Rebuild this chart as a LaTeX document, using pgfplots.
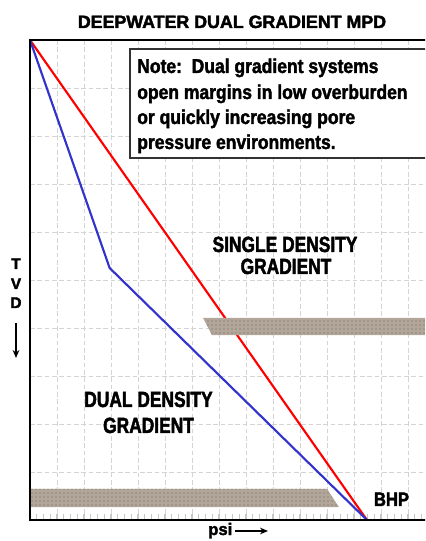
\documentclass[border=0pt]{standalone}
\usepackage{fontspec}
\setmainfont{Liberation Sans}[BoldFeatures={FakeBold=2.2}]
\newfontfamily\notefont{Liberation Sans}[FakeStretch=0.875, BoldFeatures={FakeBold=1.8}]
\newfontfamily\nbfont{Liberation Sans}[FakeStretch=0.79, BoldFeatures={FakeBold=2.0}]
\newfontfamily\bhpfont{Liberation Sans}[FakeStretch=0.85, BoldFeatures={FakeBold=2.0}]
\usepackage{pgfplots}
\pgfplotsset{compat=1.18}
\usetikzlibrary{patterns,arrows.meta}
\definecolor{rockbase}{RGB}{178,165,153}
\definecolor{rockdot}{RGB}{112,98,88}
\definecolor{blueline}{RGB}{50,50,205}
\begin{document}
\begin{tikzpicture}[x=0.75pt,y=0.75pt]
\useasboundingbox (0,0) rectangle (425,541);
\clip (0,0) rectangle (425,541);
\begin{axis}[
  at={(22.5pt,15.75pt)}, anchor=south west,
  scale only axis, width=296.25pt, height=360pt,
  xmin=0, xmax=14.63, ymin=0, ymax=10, y dir=reverse,
  xtick={1,...,14}, ytick={1,...,9},
  minor xtick={0.25,0.5,...,14.6},
  xticklabels={}, yticklabels={},
  xtick pos=left,
  grid=major,
  major grid style={dash pattern=on 3.5pt off 2pt, color=black!17, line width=0.7pt},
  ytick style={draw=none},
  xtick style={color=black!22, line width=1.1pt},
  major tick length=4.5pt, minor tick length=4.5pt,
  axis line style={draw=none},
  clip=false,
]
\addplot[red, line width=1.6pt] coordinates {(0,0) (12.48,10)};
\addplot[blueline, line width=1.6pt] coordinates {(0,0) (2.95,4.75) (12.48,10)};
% upper rock band
\addplot[fill=rockbase, draw=none] coordinates {(6.41,5.79) (14.63,5.79) (14.63,6.15) (6.74,6.15)} -- cycle;
\addplot[pattern=dots, pattern color=rockdot, draw=none] coordinates {(6.41,5.79) (14.63,5.79) (14.63,6.15) (6.74,6.15)} -- cycle;
% lower rock band
\addplot[fill=rockbase, draw=none] coordinates {(0,9.35) (11.0,9.35) (11.44,9.73) (0,9.73)} -- cycle;
\addplot[pattern=dots, pattern color=rockdot, draw=none] coordinates {(0,9.35) (11.0,9.35) (11.44,9.73) (0,9.73)} -- cycle;
% axis lines
\draw[black, line width=2pt, line cap=rect] (rel axis cs:1,1) -- (rel axis cs:0,1) -- (rel axis cs:0,0) -- (rel axis cs:1,0);
\end{axis}
% note box
\draw[fill=white, draw=black!80, line width=1.1pt] (130,383) rectangle (445,492);
\begin{scope}[every node/.style={inner sep=0pt, font=\notefont\bfseries\fontsize{15pt}{18pt}\selectfont}]
\node[anchor=base west] at (137,468) {Note:\ \ Dual gradient systems};
\node[anchor=base west] at (137,442) {open margins in low overburden};
\node[anchor=base west] at (137,417) {or quickly increasing pore};
\node[anchor=base west] at (137,392) {pressure environments.};
\end{scope}
% title
\node[anchor=base, inner sep=0pt, font=\bfseries\fontsize{13.35pt}{16pt}\selectfont] at (232,513) {DEEPWATER DUAL GRADIENT MPD};
% region labels
\begin{scope}[every node/.style={inner sep=0pt, anchor=base, font=\nbfont\bfseries\fontsize{16.5pt}{19pt}\selectfont}]
\node at (285,289) {SINGLE DENSITY};
\node at (286,267) {GRADIENT};
\node at (148.5,134) {DUAL DENSITY};
\node at (148.5,108) {GRADIENT};
\end{scope}
\node[anchor=base, inner sep=0pt, font=\bhpfont\bfseries\fontsize{14.6pt}{17pt}\selectfont] at (391.5,35) {BHP};
% TVD
\begin{scope}[every node/.style={inner sep=0pt, anchor=base, font=\bfseries\fontsize{11.5pt}{13pt}\selectfont}]
\node at (16,272) {T};
\node at (16,252) {V};
\node at (16,233) {D};
\end{scope}
\draw[-{Stealth[length=6pt,width=5pt]}, line width=1pt] (16,218) -- (16,183);
% psi
\node[anchor=base west, inner sep=0pt, font=\bfseries\fontsize{12.5pt}{14pt}\selectfont] at (208,6) {psi};
\draw[-{Stealth[length=6pt,width=5pt]}, line width=1pt] (235,10) -- (268,10);
\end{tikzpicture}
\end{document}
